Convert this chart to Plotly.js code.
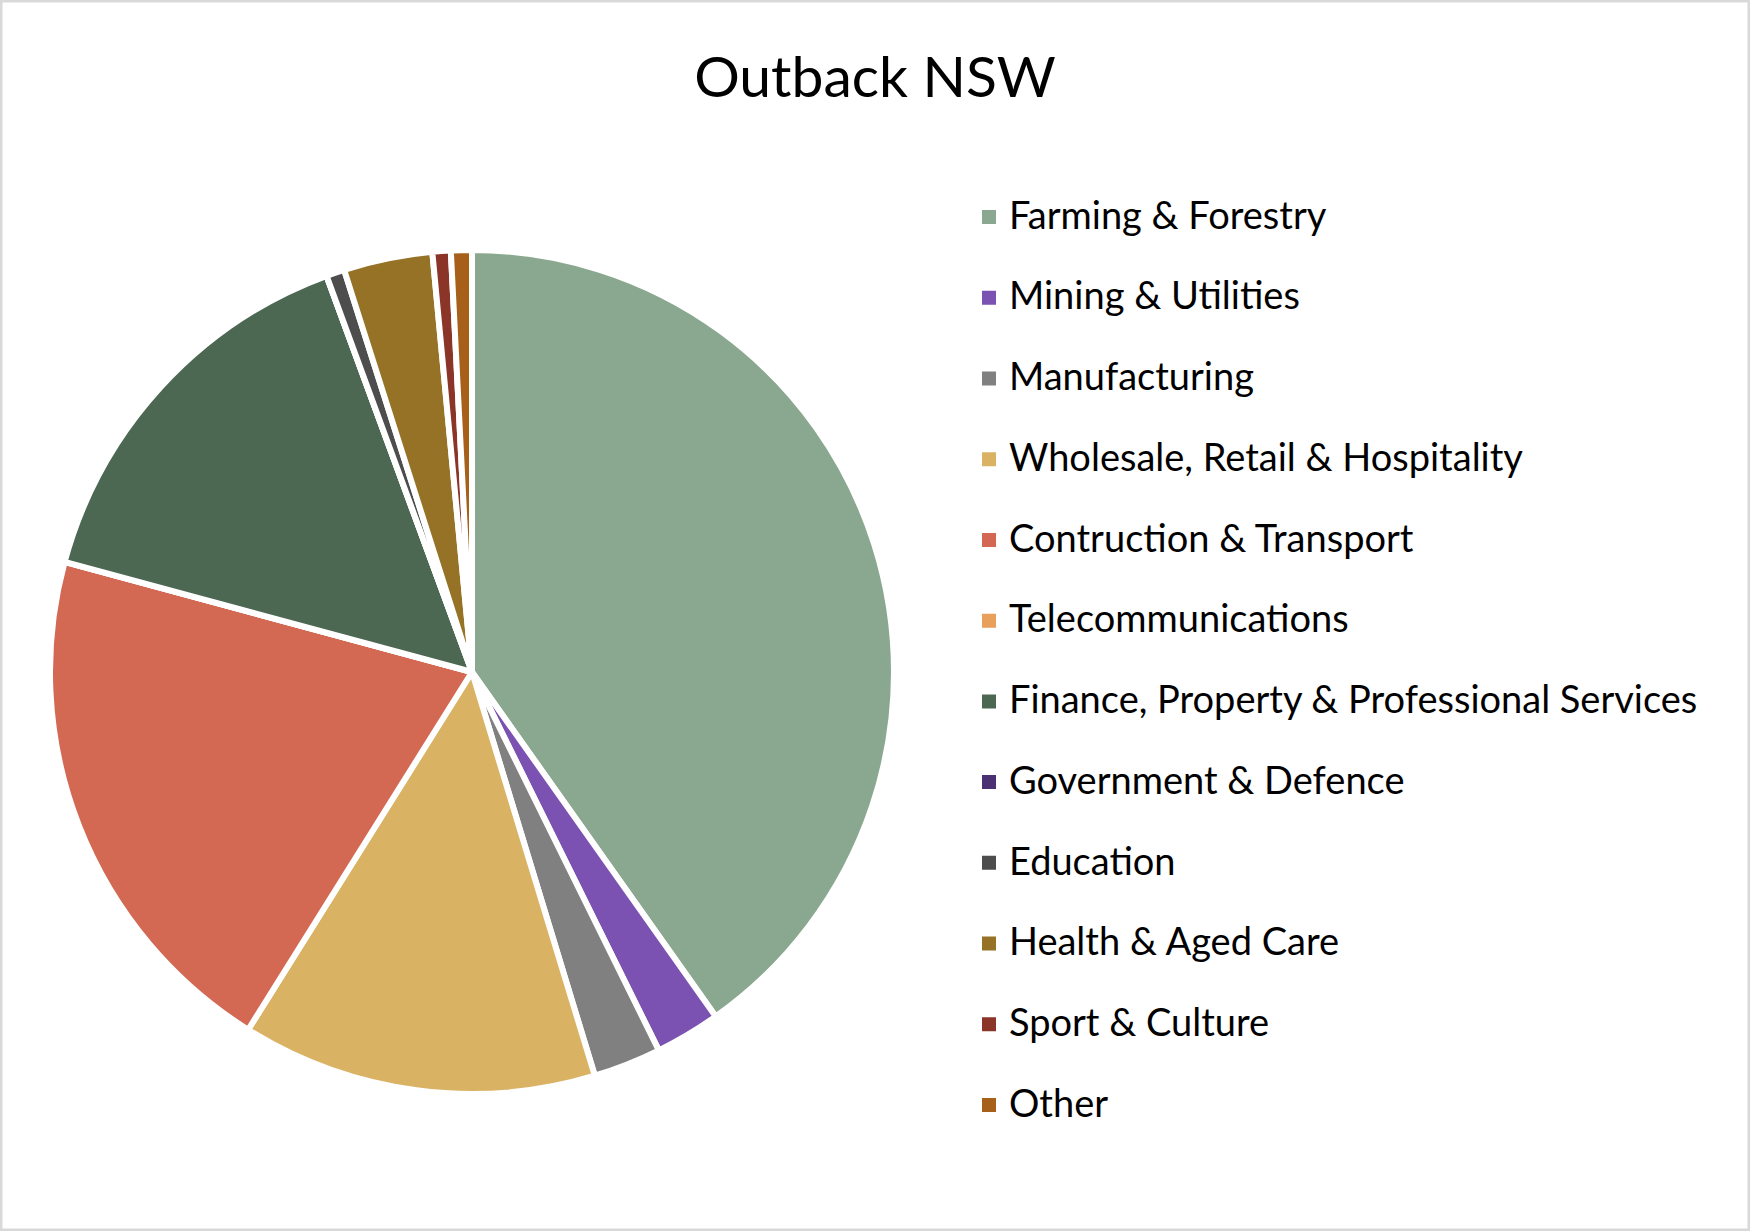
<!DOCTYPE html>
<html>
<head>
<meta charset="utf-8">
<script src="https://cdn.plot.ly/plotly-3.0.1.min.js"></script>
<style>
  html, body { margin: 0; padding: 0; background: #ffffff; }
  #chart { width: 1750px; height: 1231px; }
</style>
</head>
<body>
<div id="chart"></div>
<script>
// ---- data ----
const chartTitle = "Outback NSW";
const categories = [
  "Farming & Forestry",
  "Mining & Utilities",
  "Manufacturing",
  "Wholesale, Retail & Hospitality",
  "Contruction & Transport",
  "Telecommunications",
  "Finance, Property & Professional Services",
  "Government & Defence",
  "Education",
  "Health & Aged Care",
  "Sport & Culture",
  "Other"
];
const shares = [40.2, 2.5, 2.6, 13.6, 20.3, 0, 15.2, 0, 0.7, 3.4, 0.7, 0.8];
const sliceColors = [
  "#8AA88F", "#7B52B2", "#808080", "#DAB264", "#D36853", "#E8A05B",
  "#4C6852", "#4B3174", "#4D4D4D", "#967227", "#8B3528", "#A66019"
];

// legend labels: bigger text on first line, spacer second line for row spacing
const legendLabels = categories.map(c =>
  '<span style="font-size:38px">' + c + '</span><br> ');

const W = 1750, H = 1231;
const cx = 472, cy = 672, R = 422;
const pieDomain = {
  x: [(cx - R) / W, (cx + R) / W],
  y: [(H - cy - R) / H, (H - cy + R) / H]
};

// underlay pie: supplies the legend entries (solid colour squares)
const legendPie = {
  type: "pie",
  labels: legendLabels,
  values: shares,
  sort: false,
  direction: "clockwise",
  rotation: 0,
  textinfo: "none",
  hoverinfo: "skip",
  marker: { colors: sliceColors, line: { color: sliceColors, width: 2 } },
  domain: pieDomain,
  showlegend: true
};

// visible pie with white separators
const mainPie = {
  type: "pie",
  labels: legendLabels,
  values: shares,
  sort: false,
  direction: "clockwise",
  rotation: 0,
  textinfo: "none",
  hoverinfo: "percent",
  marker: { colors: sliceColors, line: { color: "#FFFFFF", width: 6 } },
  domain: pieDomain,
  showlegend: false
};

const layout = {
  width: W,
  height: H,
  margin: { l: 0, r: 0, t: 0, b: 0 },
  paper_bgcolor: "#FFFFFF",
  plot_bgcolor: "#FFFFFF",
  font: { family: "Lato, 'Open Sans', sans-serif", color: "#000000" },
  title: {
    text: chartTitle,
    font: { family: "Lato, 'Open Sans', sans-serif", size: 57, color: "#000000" },
    x: 0.5, xanchor: "center",
    y: 1 - 77 / H, yanchor: "middle", yref: "container"
  },
  legend: {
    x: 969 / W, xanchor: "left",
    y: 1 - 191 / H, yanchor: "top",
    font: { family: "Lato, 'Open Sans', sans-serif", size: 29.9, color: "#000000" },
    itemsizing: "constant",
    itemwidth: 30,
    valign: "top",
    bgcolor: "rgba(0,0,0,0)",
    borderwidth: 0
  },
  shapes: [{
    type: "rect", xref: "paper", yref: "paper",
    x0: 0, y0: 0, x1: 1, y1: 1,
    line: { color: "#D9D9D9", width: 5 },
    layer: "above"
  }]
};

Plotly.newPlot("chart", [legendPie, mainPie], layout, { displayModeBar: false, staticPlot: true });
</script>
</body>
</html>
